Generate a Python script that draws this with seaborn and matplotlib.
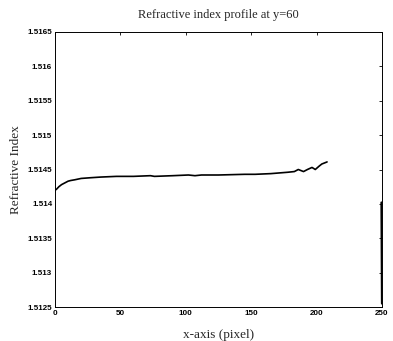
import numpy as np
import pandas as pd
import matplotlib
matplotlib.use("Agg")
import matplotlib.pyplot as plt
import seaborn as sns

# profile (x in pixel, refractive index)
x_main = [0, 1, 3, 5, 8, 10, 12, 15, 20, 27, 35, 47, 60, 73, 76, 90, 102, 107,
          112, 125, 145, 153, 165, 178, 183, 186, 190, 193, 196.5, 199, 202, 204, 208]
n_main = [1.51420, 1.51421, 1.51425, 1.51428, 1.51431, 1.51433, 1.51434, 1.51435,
          1.51437, 1.51438, 1.51439, 1.51440, 1.51440, 1.51441, 1.51440, 1.51441,
          1.51442, 1.51441, 1.51442, 1.51442, 1.51443, 1.51443, 1.51444, 1.51446,
          1.51447, 1.51450, 1.51447, 1.51450, 1.51453, 1.51450, 1.51455, 1.51458, 1.51461]

# short drop at the right edge
x_edge = [249.6, 250]
n_edge = [1.51402, 1.51255]

x_ticks = [0, 50, 100, 150, 200, 250]
y_ticks = [1.5125, 1.513, 1.5135, 1.514, 1.5145, 1.515, 1.5155, 1.516, 1.5165]
y_tick_labels = ["1.5125", "1.513", "1.5135", "1.514", "1.5145", "1.515",
                 "1.5155", "1.516", "1.5165"]

sns.set_style("white")
plt.rcParams["font.family"] = ["Liberation Serif", "DejaVu Serif"]

fig = plt.figure(figsize=(3.93, 3.41), dpi=100)
ax = fig.add_axes([55 / 393, 34 / 341, 327 / 393, 275 / 341])

main = pd.DataFrame({"x": x_main, "n": n_main})
edge = pd.DataFrame({"x": x_edge, "n": n_edge})
sns.lineplot(data=main, x="x", y="n", ax=ax, color="black", linewidth=1.2, sort=False)
sns.lineplot(data=edge, x="x", y="n", ax=ax, color="black", linewidth=1.6, sort=False)

ax.set_xlim(0, 250)
ax.set_ylim(1.5125, 1.5165)
ax.set_xticks(x_ticks)
ax.set_xticklabels([str(t) for t in x_ticks])
ax.set_yticks(y_ticks)
ax.set_yticklabels(y_tick_labels)
for lab in ax.get_xticklabels() + ax.get_yticklabels():
    lab.set_family(["Liberation Sans", "DejaVu Sans"])
    lab.set_fontweight("bold")
    lab.set_fontsize(5.8)

ax.tick_params(direction="in", length=2.5, width=0.6, top=True, right=True,
               pad=2, colors="black")
for sp in ax.spines.values():
    sp.set_visible(True)
    sp.set_color("black")
    sp.set_linewidth(0.7)

ax.set_title("Refractive index profile at y=60", fontsize=9, pad=10)
ax.set_xlabel("x-axis (pixel)", fontsize=9.5, labelpad=9)
ax.set_ylabel("Refractive Index", fontsize=9.5, labelpad=4)

plt.savefig("out.png", dpi=100)
plt.close()
